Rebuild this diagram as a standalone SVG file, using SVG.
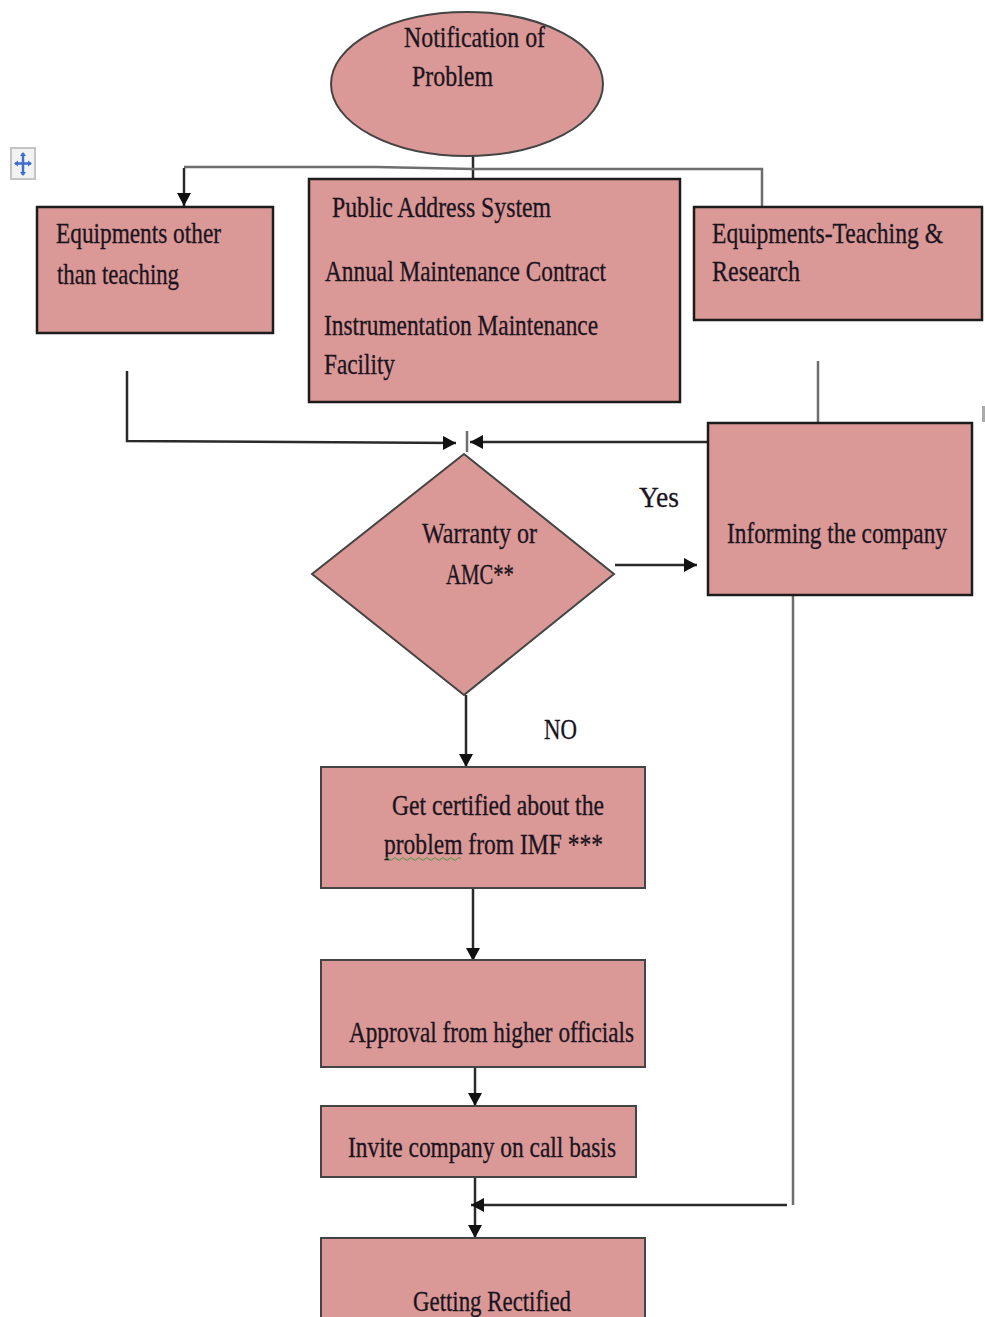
<svg xmlns="http://www.w3.org/2000/svg" width="985" height="1317" viewBox="0 0 985 1317">
<style>
.n{fill:#da9896;stroke:#1c1c1c;stroke-width:2.500}
.o{fill:#da9896;stroke:#444;stroke-width:2}
.t{font-family:"Liberation Serif","Times New Roman",serif;font-size:29px;fill:#1a1420;stroke:#1a1420;stroke-width:.3}
.c{fill:none;stroke:#2a2a2a;stroke-width:2.500}
.g{fill:none;stroke:#6e6e6e;stroke-width:2.500}
</style>
<defs>
<marker id="a" markerUnits="userSpaceOnUse" markerWidth="14" markerHeight="14" refX="13" refY="7" orient="auto"><path d="M0 0L13 7L0 14Z" fill="#111"/></marker>
</defs>
<rect width="985" height="1317" fill="#fff"/>
<g id="move-icon">
<rect x="11" y="148" width="24" height="31" fill="#f2f2f2" stroke="#c4c4c4" stroke-width="2"/>
<path d="M23 153V175M15 163.500H31" stroke="#3f6fd0" stroke-width="2.500" fill="none"/>
<path d="M23 152l-3 4h6zM23 176l-3-4h6zM14 163.500l4-3v6zM32 163.500l-4-3v6z" fill="#3f6fd0"/>
</g>
<g id="connectors">
<path class="c" d="M473 155V179"/>
<path class="g" d="M184 167H376L473 169H762V207"/>
<path class="c" d="M184 168V206" marker-end="url(#a)"/>
<path class="c" d="M127 371V441L456 443" marker-end="url(#a)"/>
<path class="g" d="M467 431V452"/>
<path class="c" d="M707 442H470" marker-end="url(#a)"/>
<path class="g" d="M818 361V423"/>
<path class="c" d="M615 565H697" marker-end="url(#a)"/>
<path class="c" d="M466 695V767" marker-end="url(#a)"/>
<path class="c" d="M473 889V961" marker-end="url(#a)"/>
<path class="c" d="M475 1067V1106" marker-end="url(#a)"/>
<path class="c" d="M475 1177V1238" marker-end="url(#a)"/>
<path class="g" d="M793 595V1205"/>
<path class="c" d="M787 1205H471" marker-end="url(#a)"/>
<path d="M982 406h3v16h-3z" fill="#aaa"/>
</g>
<g id="n1"><ellipse class="o" cx="467" cy="84" rx="136" ry="72"/>
<text class="t" x="404" y="47" textLength="141" lengthAdjust="spacingAndGlyphs">Notification of</text>
<text class="t" x="412" y="86" textLength="81" lengthAdjust="spacingAndGlyphs">Problem</text></g>
<g id="n2"><rect class="n" x="37" y="207" width="236" height="126"/>
<text class="t" x="56" y="243" textLength="165" lengthAdjust="spacingAndGlyphs">Equipments other</text>
<text class="t" x="57" y="284" textLength="122" lengthAdjust="spacingAndGlyphs">than teaching</text></g>
<g id="n3"><rect class="n" x="309" y="179" width="371" height="223"/>
<text class="t" x="332" y="217" textLength="219" lengthAdjust="spacingAndGlyphs">Public Address System</text>
<text class="t" x="325" y="281" textLength="281" lengthAdjust="spacingAndGlyphs">Annual Maintenance Contract</text>
<text class="t" x="324" y="335" textLength="274" lengthAdjust="spacingAndGlyphs">Instrumentation Maintenance</text>
<text class="t" x="324" y="374" textLength="71" lengthAdjust="spacingAndGlyphs">Facility</text></g>
<g id="n4"><rect class="n" x="694" y="207" width="288" height="113"/>
<text class="t" x="712" y="243" textLength="231" lengthAdjust="spacingAndGlyphs">Equipments-Teaching &amp;</text>
<text class="t" x="712" y="281" textLength="88" lengthAdjust="spacingAndGlyphs">Research</text></g>
<g id="n5"><path class="o" d="M464 454L614 574L464 695L312 574Z"/>
<text class="t" x="422" y="543" textLength="115" lengthAdjust="spacingAndGlyphs">Warranty or</text>
<text class="t" x="446" y="584" textLength="68" lengthAdjust="spacingAndGlyphs">AMC**</text></g>
<g id="n6"><rect class="n" x="708" y="423" width="264" height="172"/>
<text class="t" x="727" y="543" textLength="220" lengthAdjust="spacingAndGlyphs">Informing the company</text></g>
<g id="n7"><rect class="o" x="321" y="767" width="324" height="121"/>
<text class="t" x="392" y="815" textLength="212" lengthAdjust="spacingAndGlyphs">Get certified about the</text>
<text class="t" x="384" y="854" textLength="219" lengthAdjust="spacingAndGlyphs">problem from IMF ***</text>
<path d="M385 859q2-3 4 0t4 0 4 0 4 0 4 0 4 0 4 0 4 0 4 0 4 0 4 0 4 0 4 0 4 0 4 0 4 0 4 0 4 0 4 0" fill="none" stroke="#4f9a4f" stroke-width="1"/></g>
<g id="n8"><rect class="o" x="321" y="960" width="324" height="107"/>
<text class="t" x="349" y="1042" textLength="285" lengthAdjust="spacingAndGlyphs">Approval from higher officials</text></g>
<g id="n9"><rect class="o" x="321" y="1106" width="315" height="71"/>
<text class="t" x="348" y="1157" textLength="268" lengthAdjust="spacingAndGlyphs">Invite company on call basis</text></g>
<g id="n10"><rect class="o" x="321" y="1238" width="324" height="90"/>
<text class="t" x="413" y="1311" textLength="158" lengthAdjust="spacingAndGlyphs">Getting Rectified</text></g>
<g id="labels">
<text class="t" x="639" y="507" textLength="40" lengthAdjust="spacingAndGlyphs">Yes</text>
<text class="t" x="544" y="739" textLength="33" lengthAdjust="spacingAndGlyphs">NO</text>
</g>
</svg>
